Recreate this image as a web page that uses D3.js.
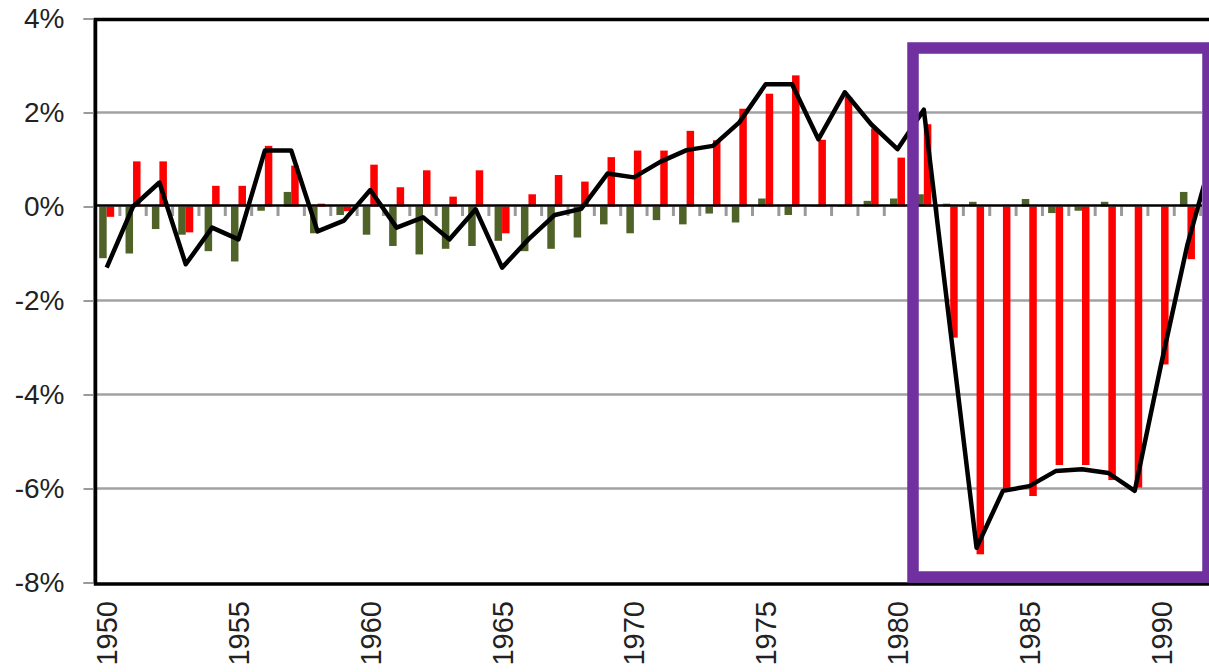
<!DOCTYPE html>
<html>
<head>
<meta charset="utf-8">
<script src="https://cdnjs.cloudflare.com/ajax/libs/d3/7.8.5/d3.min.js"></script>
<style>
  body { margin: 0; background: #fff; }
  text { font-family: "Liberation Sans", Arial, sans-serif; fill: #222; }
</style>
</head>
<body>
<div id="chart"></div>
<script>
// data (percent)
var years = d3.range(1950, 1993);

var greenValues = [-1.1, -1.0, -0.48, -0.6, -0.95, -1.17, -0.09, 0.31, -0.57, -0.18,
  -0.6, -0.84, -1.02, -0.9, -0.84, -0.73, -0.95, -0.9, -0.66, -0.38,
  -0.57, -0.29, -0.38, -0.15, -0.34, 0.17, -0.18, 0.01, 0.03, 0.12,
  0.17, 0.26, 0.06, 0.1, 0.0, 0.16, -0.14, -0.09, 0.1, 0.0,
  0.0, 0.31, 0.2];

var redValues = [-0.22, 0.96, 0.96, -0.55, 0.44, 0.44, 1.29, 0.87, 0.06, -0.1,
  0.89, 0.41, 0.77, 0.21, 0.77, -0.57, 0.26, 0.67, 0.53, 1.05,
  1.19, 1.19, 1.61, 1.41, 2.08, 2.4, 2.79, 1.42, 2.33, 1.66,
  1.04, 1.75, -2.79, -7.4, -6.05, -6.16, -5.5, -5.5, -5.82, -5.98,
  -3.36, -1.12, 1.0];

var totalValues = [-1.3, 0.0, 0.51, -1.23, -0.45, -0.7, 1.19, 1.19, -0.53, -0.3,
  0.35, -0.45, -0.23, -0.7, -0.06, -1.3, -0.7, -0.18, -0.05, 0.7,
  0.62, 0.95, 1.2, 1.29, 1.79, 2.6, 2.6, 1.43, 2.43, 1.75,
  1.22, 2.06, -2.6, -7.26, -6.05, -5.95, -5.63, -5.59, -5.67, -6.05,
  -3.36, -0.81, 1.2];

var yTicks = [-8, -6, -4, -2, 0, 2, 4];
var xLabelYears = [1950, 1955, 1960, 1965, 1970, 1975, 1980, 1985, 1990];

var svgWidth = 1209;
var svgHeight = 672;

var plotLeft = 93.5;
var plotRight = 1202;
var bandStep = 26.36;

var svg = d3.select("#chart")
  .append("svg")
  .attr("width", svgWidth)
  .attr("height", svgHeight);

// scales
var xScale = d3.scaleBand()
  .domain(years)
  .range([plotLeft, plotLeft + years.length * bandStep])
  .padding(0);

var xSub = d3.scaleBand()
  .domain(["green", "red"])
  .range([xScale.bandwidth() / 2 - 7.5, xScale.bandwidth() / 2 + 7.5]);

var yScale = d3.scaleLinear()
  .domain([-8, 4])
  .range([582.5, 18.5]);

// clip everything to the visible plot
svg.append("clipPath")
  .attr("id", "plotClip")
  .append("rect")
  .attr("x", plotLeft)
  .attr("y", 0)
  .attr("width", plotRight - plotLeft)
  .attr("height", svgHeight);

var plot = svg.append("g").attr("clip-path", "url(#plotClip)");

// gridlines
plot.selectAll(".grid")
  .data(yTicks.filter(d => d > -8 && d < 4 && d !== 0))
  .enter()
  .append("line")
  .attr("x1", plotLeft)
  .attr("x2", svgWidth)
  .attr("y1", d => yScale(d))
  .attr("y2", d => yScale(d))
  .attr("stroke", "#a2a2a2")
  .attr("stroke-width", 2.5);

// category tick marks below the zero line
plot.selectAll(".xtick")
  .data(years.slice(1).concat([1993]))
  .enter()
  .append("line")
  .attr("x1", d => d === 1993 ? xScale(1992) + bandStep : xScale(d))
  .attr("x2", d => d === 1993 ? xScale(1992) + bandStep : xScale(d))
  .attr("y1", yScale(0))
  .attr("y2", yScale(0) + 9.5)
  .attr("stroke", "#9a9a9a")
  .attr("stroke-width", 3);

// bars
var barData = [];
years.forEach(function(yr, i) {
  barData.push({ year: yr, key: "green", value: greenValues[i] });
  barData.push({ year: yr, key: "red", value: redValues[i] });
});

plot.selectAll(".bar")
  .data(barData)
  .enter()
  .append("rect")
  .attr("x", d => xScale(d.year) + xSub(d.key))
  .attr("width", xSub.bandwidth())
  .attr("y", d => yScale(Math.max(0, d.value)))
  .attr("height", d => Math.abs(yScale(d.value) - yScale(0)))
  .attr("fill", d => d.key === "green" ? "#4f6228" : "#ff0000");

// zero line
plot.append("line")
  .attr("x1", plotLeft)
  .attr("x2", svgWidth)
  .attr("y1", yScale(0) - 1)
  .attr("y2", yScale(0) - 1)
  .attr("stroke", "#000")
  .attr("stroke-width", 2.5);

// total line
var line = d3.line()
  .x((d, i) => xScale(years[i]) + xScale.bandwidth() / 2)
  .y(d => yScale(d));

plot.append("path")
  .datum(totalValues)
  .attr("d", line)
  .attr("fill", "none")
  .attr("stroke", "#000")
  .attr("stroke-width", 4.5)
  .attr("stroke-linejoin", "round");

// y axis: gray line + ticks
var leftAxis = d3.axisLeft(yScale)
  .tickValues(yTicks)
  .tickSize(10)
  .tickPadding(19)
  .tickFormat(d => d + "%");

var yAxis = svg.append("g")
  .attr("transform", `translate(${plotLeft}, 0)`)
  .call(leftAxis);

yAxis.select(".domain").attr("stroke", "#9a9a9a").attr("stroke-width", 2);
yAxis.selectAll(".tick line").attr("stroke", "#9a9a9a").attr("stroke-width", 2);
yAxis.selectAll(".tick text")
  .style("font-size", "28px")
  .attr("fill", "#222")
  .attr("dy", "0.32em");

// black plot frame
svg.append("rect")
  .attr("x", 95.5)
  .attr("y", 19.5)
  .attr("width", 1200)
  .attr("height", 564.5)
  .attr("fill", "none")
  .attr("stroke", "#000")
  .attr("stroke-width", 3.5);

// x labels, rotated
svg.selectAll(".xlabel")
  .data(xLabelYears)
  .enter()
  .append("text")
  .attr("transform", d => `translate(${xScale(d) + xScale.bandwidth() / 2}, 601) rotate(-90)`)
  .attr("text-anchor", "end")
  .attr("dy", "0.36em")
  .style("font-size", "29px")
  .text(d => d);

// purple highlight box
svg.append("rect")
  .attr("x", 913)
  .attr("y", 48)
  .attr("width", 295)
  .attr("height", 529)
  .attr("fill", "none")
  .attr("stroke", "#7030a0")
  .attr("stroke-width", 11.5);
</script>
</body>
</html>
